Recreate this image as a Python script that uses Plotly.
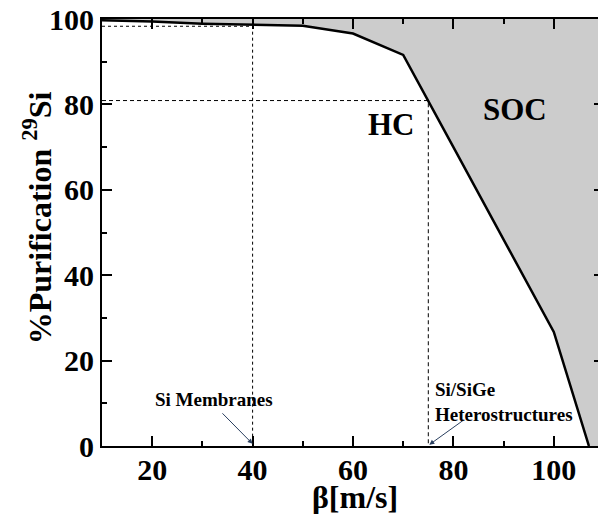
import plotly.graph_objects as go

# ---- data ----
beta = [10, 20, 30, 40, 50, 60, 70, 80, 90, 100, 107]
purification = [99.7, 99.4, 98.9, 98.7, 98.4, 96.6, 91.6, 70.0, 48.3, 26.7, 0.0]

x_range = [10, 110]
y_range = [0, 100]

membrane_beta = 40
membrane_purif = 98.3
hetero_beta = 75
hetero_purif = 80.9

x_ticks = [20, 40, 60, 80, 100]
y_ticks = [0, 20, 40, 60, 80, 100]

FONT = "Liberation Serif, Times New Roman, Times, serif"

fig = go.Figure()

# grey SOC region (above / right of the curve)
poly_x = beta + [x_range[1], x_range[1], x_range[0]]
poly_y = purification + [y_range[0], y_range[1], y_range[1]]
fig.add_trace(go.Scatter(x=poly_x, y=poly_y, fill="toself", fillcolor="#cccccc",
                         line=dict(width=0), mode="lines", hoverinfo="skip", showlegend=False))

# dotted guide for Si membranes
fig.add_trace(go.Scatter(x=[x_range[0], membrane_beta, membrane_beta],
                         y=[membrane_purif, membrane_purif, y_range[0]],
                         mode="lines", line=dict(color="black", width=1, dash="dot"),
                         showlegend=False))
# dashed guide for heterostructures
fig.add_trace(go.Scatter(x=[x_range[0], hetero_beta, hetero_beta],
                         y=[hetero_purif, hetero_purif, y_range[0]],
                         mode="lines", line=dict(color="black", width=1, dash="4px,3px"),
                         showlegend=False))

# main curve
fig.add_trace(go.Scatter(x=beta, y=purification, mode="lines",
                         line=dict(color="black", width=2.5), showlegend=False))

axis_common = dict(showgrid=False, zeroline=False, showline=True, linecolor="black",
                   linewidth=2, mirror="allticks", ticks="inside", ticklen=10,
                   tickwidth=2, tickcolor="black", automargin=False,
                   ticklabeloverflow="allow",
                   tickfont=dict(family=FONT, size=30, color="black"))

fig.update_xaxes(range=x_range, tickvals=x_ticks, ticktext=[f"<b>{v}</b>" for v in x_ticks],
                 ticklabelstandoff=-4,
                 minor=dict(ticks="inside", ticklen=5, tickwidth=2, dtick=10, tick0=0,
                            tickcolor="black"),
                 **axis_common)
fig.update_yaxes(range=y_range, tickvals=y_ticks, ticktext=[f"<b>{v}</b>" for v in y_ticks],
                 minor=dict(ticks="inside", ticklen=5, tickwidth=2, dtick=10, tick0=0,
                            tickcolor="black"),
                 **axis_common)

# axis titles as paper annotations
fig.add_annotation(x=0.504, y=-0.12, xref="paper", yref="paper", text="<b>β[m/s]</b>",
                   showarrow=False, xanchor="center", yanchor="middle",
                   font=dict(family=FONT, size=32, color="black"))
fig.add_annotation(x=-0.13, y=0.535, xref="paper", yref="paper",
                   text="<b>%Purification <sup>29</sup>Si</b>", textangle=-90,
                   showarrow=False, xanchor="center", yanchor="middle",
                   font=dict(family=FONT, size=32, color="black"))

ann_font = dict(family=FONT, size=19, color="black")
fig.add_annotation(x=membrane_beta, y=0.5, ax=33.7, ay=8.0, axref="x", ayref="y",
                   xref="x", yref="y", showarrow=True, arrowhead=2, arrowsize=1,
                   arrowwidth=1, text="")
fig.add_annotation(x=32.3, y=10.8, text="<b>Si Membranes</b>", showarrow=False, font=ann_font)
fig.add_annotation(x=hetero_beta + 0.2, y=0.3, ax=82.3, ay=6.3, axref="x", ayref="y",
                   xref="x", yref="y", showarrow=True, arrowhead=2, arrowsize=1,
                   arrowwidth=1, text="")
fig.add_annotation(x=75.9, y=10.3, text="<b>Si/SiGe<br>Heterostructures</b>", showarrow=False,
                   xanchor="left", align="left", font=ann_font)
fig.add_annotation(x=67.6, y=75.2, text="<b>HC</b>", showarrow=False,
                   font=dict(family=FONT, size=31, color="black"))
fig.add_annotation(x=92.3, y=78.9, text="<b>SOC</b>", showarrow=False,
                   font=dict(family=FONT, size=31, color="black"))

# page body has an 8px default margin: compensate so the plot area lands at
# x 102..604, y 19..446 of the window
fig.update_layout(width=598, height=506, margin=dict(l=94, r=2, t=11, b=68),
                  plot_bgcolor="white", paper_bgcolor="white",
                  font=dict(family=FONT, color="black"))

fig.write_html("out.html")
